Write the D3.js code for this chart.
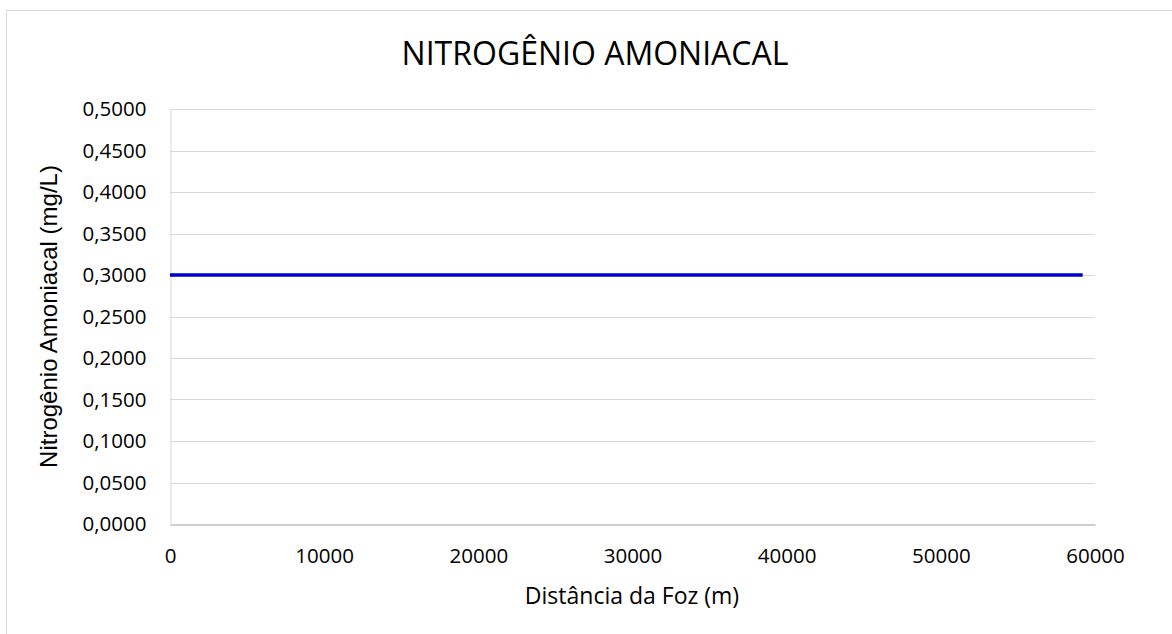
<!DOCTYPE html>
<html><head><meta charset="utf-8">
<script src="https://cdn.jsdelivr.net/npm/d3@7"></script>
<style>
html,body{margin:0;padding:0;background:#fff;}
svg{display:block;}
</style></head>
<body>
<svg id="chart" width="1172" height="634"></svg>
<script>
const title = "NITROGÊNIO AMONIACAL";
const xTitle = "Distância da Foz (m)";
const yTitle = "Nitrogênio Amoniacal (mg/L)";
const distances = [0, 59200];
const values = [0.3, 0.3];
const xTicks = [0, 10000, 20000, 30000, 40000, 50000, 60000];
const yTicks = [0, 0.05, 0.1, 0.15, 0.2, 0.25, 0.3, 0.35, 0.4, 0.45, 0.5];

(function () {
const svg = d3.select("#chart");
const pL = 170, pR = 1095, pT = 109, pB = 524;

svg.append("rect").attr("x", 6.5).attr("y", 10.5).attr("width", 1180).attr("height", 700)
  .attr("fill", "#fff").attr("stroke", "#d9d9d9").attr("stroke-width", 1);

const x = d3.scaleLinear().domain([0, 60000]).range([pL, pR]);
const y = d3.scaleLinear().domain([0, 0.5]).range([pB, pT]);

const font = "'Open Sans', sans-serif";

svg.append("g").selectAll("line").data(yTicks.filter(d => d > 0)).join("line")
  .attr("x1", pL).attr("x2", pR)
  .attr("y1", d => Math.round(y(d)) + 0.5).attr("y2", d => Math.round(y(d)) + 0.5)
  .attr("stroke", "#d9d9d9").attr("stroke-width", 1);

const yAxis = d3.axisLeft(y).tickValues(yTicks).tickSize(0).tickPadding(24)
  .tickFormat(d => d3.format(".4f")(d).replace(".", ","));
const gy = svg.append("g").attr("transform", `translate(${pL + 0.5},0)`).call(yAxis);
gy.select(".domain").attr("stroke", "#d9d9d9");
gy.selectAll("text").attr("font-family", font).attr("font-size", 20.5).attr("fill", "#000");

const xAxis = d3.axisBottom(x).tickValues(xTicks).tickSize(0).tickPadding(24)
  .tickFormat(d3.format("d"));
const gx = svg.append("g").attr("transform", `translate(0,${pB + 0.5})`).call(xAxis);
gx.select(".domain").attr("stroke", "#bfbfbf").attr("stroke-width", 1.5);
gx.selectAll("text").attr("font-family", font).attr("font-size", 20.5).attr("fill", "#000");

const pts = distances.map((d, i) => [d, values[i]]);
svg.append("path").datum(pts)
  .attr("d", d3.line().x(d => x(d[0])).y(d => y(d[1])))
  .attr("fill", "none").attr("stroke", "#0000cc").attr("stroke-width", 3.5);

svg.append("text").attr("x", 595).attr("y", 65).attr("text-anchor", "middle")
  .attr("font-family", font).attr("font-size", 32).attr("fill", "#000").text(title);

svg.append("text").attr("x", 632).attr("y", 604).attr("text-anchor", "middle")
  .attr("font-family", font).attr("font-size", 23).attr("fill", "#000").text(xTitle);

svg.append("text").attr("transform", `translate(57,${(pT + pB) / 2}) rotate(-90)`)
  .attr("text-anchor", "middle")
  .attr("font-family", "'Liberation Sans', Arial, sans-serif").attr("font-size", 24).attr("fill", "#000").text(yTitle);
})();
</script>
</body></html>
